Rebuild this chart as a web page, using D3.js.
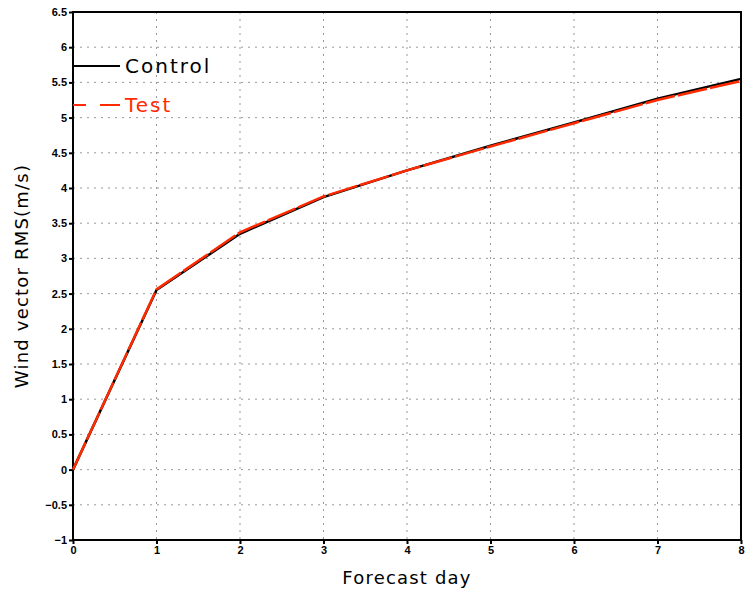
<!DOCTYPE html>
<html>
<head>
<meta charset="utf-8">
<style>
  body { margin: 0; background: #fff; }
  .tick text { font-family: "Liberation Sans", Arial, sans-serif; font-weight: bold; font-size: 11px; }
  .lab { font-family: "DejaVu Sans", sans-serif; font-size: 18px; letter-spacing: 1.2px; }
</style>
</head>
<body>
<div id="chart"></div>
<script src="https://d3js.org/d3.v7.min.js"></script>
<script>
// forecast days and RMS values
var days = [0, 1, 2, 3, 4, 5, 6, 7, 8];
var control = [0, 2.55, 3.35, 3.87, 4.25, 4.6, 4.93, 5.27, 5.55];
var test = [0, 2.56, 3.37, 3.88, 4.25, 4.59, 4.92, 5.25, 5.52];
var yTicks = [-1, -0.5, 0, 0.5, 1, 1.5, 2, 2.5, 3, 3.5, 4, 4.5, 5, 5.5, 6, 6.5];
var seriesNames = ["Control", "Test"];

var W = 746, H = 590;
var margin = { top: 12, right: 5, bottom: 50, left: 73 },
  width = W - margin.left - margin.right,
  height = H - margin.top - margin.bottom;

var x = d3.scaleLinear().domain([0, 8]).range([0, width]);
var y = d3.scaleLinear().domain([-1, 6.5]).range([height, 0]);

var svg = d3.select("#chart").append("svg")
  .attr("width", W)
  .attr("height", H);

var g = svg.append("g")
  .attr("transform", "translate(" + margin.left + "," + margin.top + ")");

// grid
g.append("g").selectAll("line.gx")
  .data(days.slice(1, -1))
  .enter().append("line")
  .attr("x1", function(d) { return x(d); })
  .attr("x2", function(d) { return x(d); })
  .attr("y1", 0).attr("y2", height)
  .attr("stroke", "#999").attr("stroke-width", 1)
  .attr("stroke-dasharray", "2,5");

g.append("g").selectAll("line.gy")
  .data(yTicks.slice(1, -1))
  .enter().append("line")
  .attr("y1", function(d) { return y(d); })
  .attr("y2", function(d) { return y(d); })
  .attr("x1", 0).attr("x2", width)
  .attr("stroke", "#999").attr("stroke-width", 1)
  .attr("stroke-dasharray", "2,5");

// axes
var xAxis = g.append("g")
  .attr("transform", "translate(0," + height + ")")
  .call(d3.axisBottom(x).tickValues(days).tickSize(4).tickPadding(2).tickFormat(d3.format("d")));

var yAxis = g.append("g")
  .call(d3.axisLeft(y).tickValues(yTicks).tickSize(4).tickPadding(2)
    .tickFormat(function(d) { return d < 0 ? "\u2212" + Math.abs(d) : d; }));

[xAxis, yAxis].forEach(function(a) {
  a.select(".domain").remove();
  a.selectAll(".tick line").attr("stroke", "#000").attr("stroke-width", 2);
  a.selectAll(".tick text").attr("fill", "#000");
});

// frame
g.append("rect")
  .attr("width", width).attr("height", height)
  .attr("fill", "none").attr("stroke", "#000").attr("stroke-width", 2);

// lines
var line = d3.line()
  .x(function(d, i) { return x(days[i]); })
  .y(function(d) { return y(d); });

g.append("path")
  .datum(control)
  .attr("d", line)
  .attr("fill", "none").attr("stroke", "#000").attr("stroke-width", 2.5);

g.append("path")
  .datum(test)
  .attr("d", line)
  .attr("fill", "none").attr("stroke", "#ff2a00").attr("stroke-width", 2.5)
  .attr("stroke-dasharray", "30,3");

// legend
var leg = [
  { name: seriesNames[0], color: "#000", dash: null, yy: 66 },
  { name: seriesNames[1], color: "#ff2a00", dash: "13,14,20", yy: 105 }
];
leg.forEach(function(l) {
  svg.append("line")
    .attr("x1", 73).attr("x2", 120)
    .attr("y1", l.yy).attr("y2", l.yy)
    .attr("stroke", l.color).attr("stroke-width", 2)
    .attr("stroke-dasharray", l.dash);
  svg.append("text")
    .attr("class", "lab")
    .attr("x", 125).attr("y", l.yy + 7)
    .attr("fill", l.color)
    .style("font-size", "20px")
    .style("letter-spacing", "2px")
    .text(l.name);
});

// axis titles
svg.append("text")
  .attr("class", "lab")
  .attr("text-anchor", "middle")
  .attr("transform", "translate(28," + (margin.top + height / 2) + ") rotate(-90)")
  .text("Wind vector RMS(m/s)");

svg.append("text")
  .attr("class", "lab")
  .attr("text-anchor", "middle")
  .attr("x", margin.left + width / 2)
  .attr("y", 584)
  .text("Forecast day");
</script>
</body>
</html>
